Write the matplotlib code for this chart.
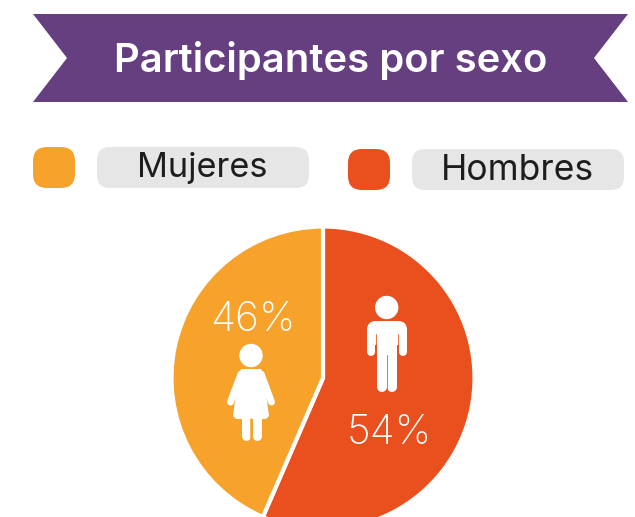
#!/usr/bin/env python3
"""Participantes por sexo: pie chart with banner title and person icons."""

import matplotlib

matplotlib.use("Agg")
import matplotlib.pyplot as plt
from matplotlib.patches import Circle, FancyBboxPatch, Polygon

WIDTH, HEIGHT = 635, 517

TITLE = "Participantes por sexo"
CATEGORIES = ["Hombres", "Mujeres"]
# labelled shares, and the shares as the slices are actually drawn
PERCENT_LABELS = ["54%", "46%"]
SLICE_SHARES = [56.5, 43.5]
COLORS = ["#E9501D", "#F6A22B"]

PURPLE = "#663F80"
GRAY = "#E6E6E6"
DARK = "#1D1D1B"
FONT = "Inter"


def rounded(ax, x0, y0, x1, y1, radius, color, zorder=2):
    ax.add_patch(FancyBboxPatch(
        (x0 + radius, y0 + radius), x1 - x0 - 2 * radius, y1 - y0 - 2 * radius,
        boxstyle=f"round,pad={radius},rounding_size={radius}",
        facecolor=color, edgecolor="none", zorder=zorder,
    ))


def limb(ax, x0, y0, x1, y1, width, color="white", zorder=4):
    # width in pixels, the figure is at dpi 100
    ax.plot([x0, x1], [y0, y1], color=color, lw=width * 0.72, solid_capstyle="round", zorder=zorder)


def draw_man(ax):
    ax.add_patch(Circle((386.7, 307.5), 11, color="white", zorder=4))
    rounded(ax, 367, 321, 407, 345, 9, "white", zorder=4)
    limb(ax, 371, 330, 371, 351.5, 8)
    limb(ax, 403, 330, 403, 351.5, 8)
    limb(ax, 382, 340, 382, 387, 10)
    limb(ax, 392, 340, 392, 387, 10)
    limb(ax, 376, 334, 376, 356, 0.8, color=COLORS[0], zorder=5)
    limb(ax, 398, 334, 398, 356, 0.8, color=COLORS[0], zorder=5)
    limb(ax, 387, 355, 387, 392, 0.8, color=COLORS[0], zorder=5)


def draw_woman(ax):
    ax.add_patch(Circle((251, 355.5), 11, color="white", zorder=4))
    ax.add_patch(Polygon(
        [(241, 369), (261, 369), (264, 378), (269, 416), (266, 419), (236, 419), (233, 416), (238, 378)],
        closed=True, facecolor="white", edgecolor="none", zorder=4,
    ))
    limb(ax, 241, 374, 230.5, 402, 7)
    limb(ax, 261, 374, 271.5, 402, 7)
    limb(ax, 245.5, 415, 245.5, 436, 9)
    limb(ax, 256.5, 415, 256.5, 436, 9)
    limb(ax, 251, 419, 251, 441, 1.5, color=COLORS[1], zorder=5)


def main():
    fig = plt.figure(figsize=(WIDTH / 100, HEIGHT / 100), dpi=100, facecolor="white")
    ax = fig.add_axes([0, 0, 1, 1])

    # y axis is inverted, so start at 270 and counterclock to go clockwise on screen
    ax.pie(
        SLICE_SHARES, colors=COLORS, center=(323, 378), radius=151.5, startangle=270,
        counterclock=True, frame=True, wedgeprops={"edgecolor": "white", "linewidth": 3},
    )
    ax.set_xlim(0, WIDTH)
    ax.set_ylim(HEIGHT, 0)
    ax.axis("off")

    # banner
    ax.add_patch(Polygon(
        [(33, 14), (628, 14), (594, 58), (628, 102), (33, 102), (67, 58)],
        closed=True, facecolor=PURPLE, edgecolor="none", zorder=2,
    ))
    ax.text(331, 61, TITLE, color="white", fontsize=28.8, fontweight="semibold", family=FONT,
            ha="center", va="center", zorder=3)

    # legend
    rounded(ax, 33, 147, 75, 188, 14, COLORS[1])
    rounded(ax, 97, 147, 309, 188, 13, GRAY)
    ax.text(202.5, 168.5, CATEGORIES[1], color=DARK, fontsize=24.7, family=FONT,
            ha="center", va="center", zorder=3)
    rounded(ax, 348, 149, 390, 190, 14, COLORS[0])
    rounded(ax, 412, 149, 624, 190, 13, GRAY)
    ax.text(517.5, 171, CATEGORIES[0], color=DARK, fontsize=25.5, family=FONT,
            ha="center", va="center", zorder=3)

    # percentages and icons
    ax.text(252.5, 320, PERCENT_LABELS[1], color="white", fontsize=29.5, fontweight="light", family=FONT,
            ha="center", va="center", zorder=3)
    ax.text(389, 432.5, PERCENT_LABELS[0], color="white", fontsize=29.5, fontweight="light", family=FONT,
            ha="center", va="center", zorder=3)
    draw_man(ax)
    draw_woman(ax)

    fig.savefig("out.png", dpi=100)
    plt.close(fig)


if __name__ == "__main__":
    main()
